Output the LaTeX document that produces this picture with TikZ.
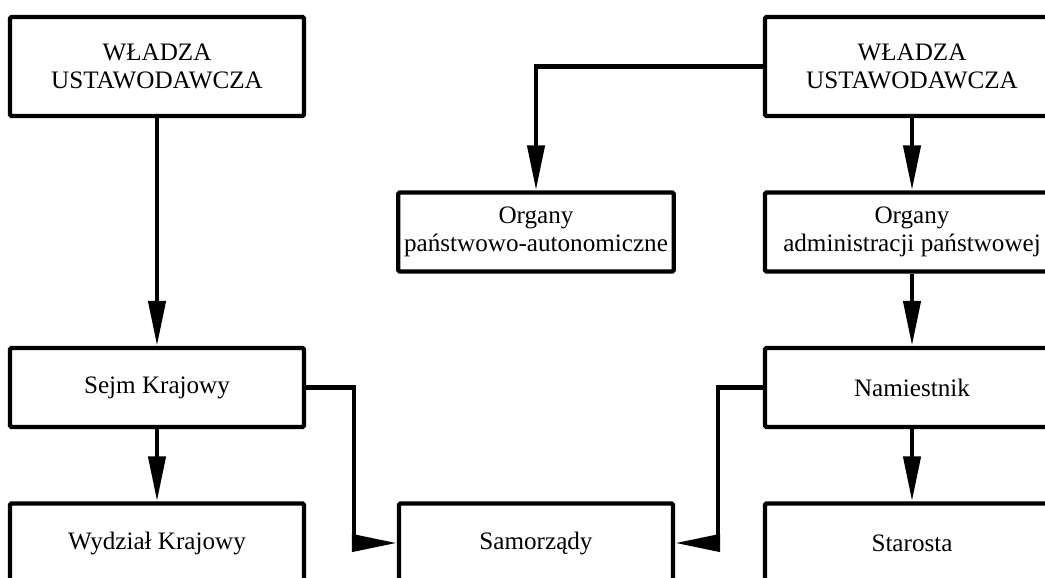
\documentclass[tikz,border=0pt]{standalone}
\usepackage{fontspec}
\setmainfont{Liberation Serif}
\usepackage{tikz}
\usetikzlibrary{arrows.meta,positioning}
\tikzstyle{arrow} = [line width=2.5pt,-{Triangle[length=0.9cm,width=0.34cm]}]
\tikzstyle{organ} = [rectangle, rounded corners=0.8pt, minimum width=5.88cm, minimum height=1.58cm, align=center, draw, line width=2.5pt, font=\fontsize{14.3}{15.8}\selectfont]

\begin{document}
\begin{tikzpicture}
\path[use as bounding box, clip] (0,0) rectangle (20.9,11.54);

% Top row
\node[organ, minimum height=1.98cm] (wladzaL) at (3.14,10.21) {WŁADZA\\USTAWODAWCZA};
\node[organ, minimum height=1.98cm] (wladzaR) at (18.24,10.21) {WŁADZA\\USTAWODAWCZA};

% Second row
\node[organ, minimum width=5.48cm] (autonom) at (10.72,6.9) {Organy\\państwowo-autonomiczne};
\node[organ] (admin) at (18.24,6.9) {Organy\\administracji państwowej};

% Third row
\node[organ] (sejm) at (3.14,3.79) {Sejm Krajowy};
\node[organ] (namiestnik) at (18.24,3.79) {Namiestnik};

% Bottom row
\node[organ] (wydzial) at (3.14,0.68) {Wydział Krajowy};
\node[organ, minimum width=5.48cm] (samorzady) at (10.72,0.68) {Samorządy};
\node[organ] (starosta) at (18.24,0.68) {Starosta};

\draw[arrow] (wladzaL) -- (sejm);
\draw[arrow] (sejm) -- (wydzial);
\draw[arrow] (wladzaR) -- (admin);
\draw[arrow] (wladzaR.west) -| (autonom.north);
\draw[arrow] (admin) -- (namiestnik);
\draw[arrow] (namiestnik) -- (starosta);

% Links to Samorzady
\draw[arrow] (sejm.east) -- ++(0.96,0) |- (samorzady.west);
\draw[arrow] (namiestnik.west) -- ++(-0.9,0) |- (samorzady.east);
\end{tikzpicture}
\end{document}
